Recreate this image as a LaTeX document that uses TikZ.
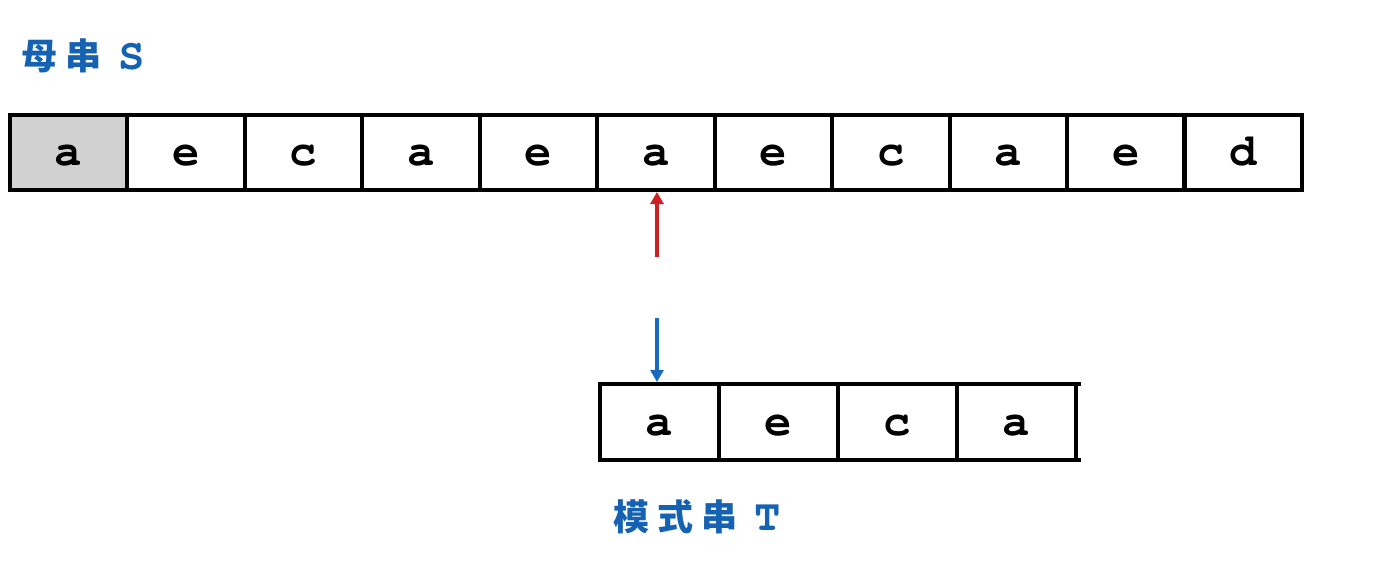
\documentclass[tikz,border=0pt]{standalone}
\usepackage{fontspec}
\newfontfamily\cjk{Noto Sans CJK SC}
\newfontfamily\mono{TeX Gyre Cursor}
\usetikzlibrary{arrows.meta}
\definecolor{labelblue}{RGB}{22,98,178}
\definecolor{arrowred}{RGB}{205,32,36}
\definecolor{arrowblue}{RGB}{24,106,190}

\begin{document}
\begin{tikzpicture}[x=0.02cm, y=-0.02cm, % one unit is one pixel of the reference
        cell/.style={draw, line width=2.3pt, minimum width=2.35cm, minimum height=1.5cm,
            inner sep=0pt, outer sep=0pt, text height=15pt, text depth=0pt,
            font=\mono\bfseries\fontsize{26}{26}\selectfont},
        tcell/.style={cell, minimum width=2.38cm, minimum height=1.52cm},
        strlabel/.style={anchor=base west, text=labelblue, inner sep=0pt,
            font=\cjk\bfseries\fontsize{20.5}{20.5}\selectfont},
        pointer/.style={line width=2.3pt, -{Triangle[length=7pt,width=7.5pt]}}]
        \useasboundingbox (0,0) rectangle (1384,577);

        \node[strlabel] (lblS) at (21,70) {母\hspace{4.5pt}串\hspace{10pt}{\mono\fontsize{25}{25}\selectfont S}};

        \node[cell, fill=black!18] (s1) at (68.7,152.5) {a};
        \node[cell] (s2) at (186.2,152.5) {e};
        \node[cell] (s3) at (303.6,152.5) {c};
        \node[cell] (s4) at (421.1,152.5) {a};
        \node[cell] (s5) at (538.5,152.5) {e};
        \node[cell] (s6) at (656.0,152.5) {a};
        \node[cell] (s7) at (773.4,152.5) {e};
        \node[cell] (s8) at (890.9,152.5) {c};
        \node[cell] (s9) at (1008.3,152.5) {a};
        \node[cell] (s10) at (1125.8,152.5) {e};
        \node[cell] (s11) at (1243.2,152.5) {d};

        \node[tcell] (t1) at (659.5,422) {a};
        \node[tcell] (t2) at (778.5,422) {e};
        \node[tcell] (t3) at (897.5,422) {c};
        \node[tcell] (t4) at (1016.5,422) {a};
        \draw[line width=2.3pt] (t4.north east) -- ++(5,0);
        \draw[line width=2.3pt] (t4.south east) -- ++(5,0);

        \coordinate (redtail) at (657,257);
        \coordinate (bluetail) at (657,318);
        \draw[pointer, arrowred, shorten >=1.1pt] (redtail) -- (redtail |- s6.south);
        \draw[pointer, arrowblue, shorten >=1.1pt] (bluetail) -- (bluetail |- t1.north);

        \node[strlabel] (lblT) at (613,531) {模\hspace{4.5pt}式\hspace{4.5pt}串\hspace{10pt}{\mono\fontsize{25}{25}\selectfont T}};
    \end{tikzpicture}
\end{document}
